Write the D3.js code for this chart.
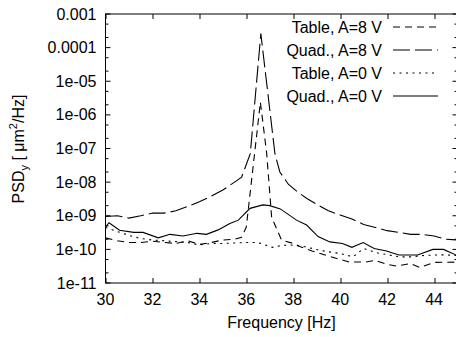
<!DOCTYPE html>
<html>
<head>
<meta charset="utf-8">
<script src="https://cdn.jsdelivr.net/npm/d3@7"></script>
<style>
  body { margin: 0; background: #fff; }
  svg { display: block; }
  text { font-family: "Liberation Sans", Arial, sans-serif; font-size: 16px; fill: #000; }
</style>
</head>
<body>
<svg id="chart"></svg>
<script>
// Table, A=8 V (short dashes)
const freqTableA8 = [30.0, 30.5, 31.0, 31.5, 32.0, 32.5, 33.0, 33.5, 34.0, 34.5, 35.0, 35.5, 35.8, 36.0, 36.6, 36.87, 37.08, 37.5, 38.0, 38.3, 38.8, 39.4, 40.0, 40.4, 41.1, 41.5, 42.0, 42.4, 43.0, 43.4, 44.0, 45.0];
const psdTableA8  = [2.2e-10, 1.8e-10, 1.6e-10, 1.6e-10, 1.75e-10, 1.6e-10, 1.5e-10, 1.8e-10, 1.4e-10, 1.6e-10, 1.9e-10, 2.0e-10, 2.3e-10, 4.6e-10, 2.4e-6, 7e-8, 9e-10, 1.9e-10, 1.5e-10, 1.2e-10, 9e-11, 6.7e-11, 5e-11, 4.2e-11, 4.2e-11, 4.7e-11, 3.6e-11, 3.2e-11, 3.8e-11, 2.9e-11, 4.1e-11, 4.2e-11];

// Quad., A=8 V (long dashes)
const freqQuadA8 = [30.0, 30.5, 31.0, 31.5, 32.0, 32.5, 33.0, 33.5, 34.0, 34.5, 35.0, 35.5, 35.8, 36.17, 36.62, 37.22, 37.43, 37.8, 38.2, 38.6, 39.0, 39.5, 40.0, 40.5, 41.0, 41.5, 42.0, 42.5, 43.0, 43.5, 44.0, 44.5, 45.0];
const psdQuadA8  = [9.5e-10, 1.0e-9, 8.5e-10, 1.0e-9, 1.2e-9, 1.2e-9, 1.4e-9, 1.9e-9, 2.6e-9, 3.8e-9, 5.8e-9, 1.0e-8, 1.4e-8, 7e-8, 2.6e-4, 7e-8, 2e-8, 8.5e-9, 5e-9, 3.2e-9, 2.2e-9, 1.4e-9, 1.05e-9, 8e-10, 5.5e-10, 4.5e-10, 3.6e-10, 3.2e-10, 2.8e-10, 2.8e-10, 2.5e-10, 2.0e-10, 1.9e-10];

// Table, A=0 V (dots)
const freqTableA0 = [30.0, 30.5, 31.0, 31.5, 32.0, 32.5, 33.0, 33.5, 34.0, 34.5, 35.0, 35.5, 36.0, 36.5, 37.1, 37.5, 37.9, 38.5, 39.1, 39.5, 40.0, 40.55, 41.0, 41.6, 42.0, 42.5, 43.0, 43.5, 44.0, 44.5, 45.0];
const psdTableA0  = [4.5e-10, 3.4e-10, 2.6e-10, 2.1e-10, 1.9e-10, 1.8e-10, 1.7e-10, 1.6e-10, 1.35e-10, 1.5e-10, 1.5e-10, 1.55e-10, 1.6e-10, 1.6e-10, 1.15e-10, 1.3e-10, 1.35e-10, 1.2e-10, 9.5e-11, 8.5e-11, 7.5e-11, 6e-11, 1.06e-10, 7.8e-11, 7e-11, 6e-11, 6e-11, 6.5e-11, 6.8e-11, 6.9e-11, 6.5e-11];

// Quad., A=0 V (solid)
const freqQuadA0 = [30.0, 30.15, 30.6, 31.2, 31.6, 32.25, 32.75, 33.3, 33.9, 34.3, 34.8, 35.3, 35.66, 36.16, 36.7, 37.0, 37.45, 38.14, 38.57, 39.06, 39.56, 40.1, 40.5, 40.98, 41.45, 41.97, 42.5, 43.3, 43.95, 44.4, 45.0];
const psdQuadA0  = [4.6e-10, 6.2e-10, 3.7e-10, 3.2e-10, 3.2e-10, 2.2e-10, 2.8e-10, 2.5e-10, 3e-10, 2.8e-10, 3.8e-10, 5.9e-10, 7.4e-10, 1.66e-9, 2.1e-9, 2e-9, 1.6e-9, 7.4e-10, 5.3e-10, 2.4e-10, 1.67e-10, 1.5e-10, 1.15e-10, 1.6e-10, 1.06e-10, 9e-11, 6.8e-11, 6.8e-11, 1e-10, 1e-10, 6.5e-11];

const xTicks = [30, 32, 34, 36, 38, 40, 42, 44];
const yTicks = [1e-3, 1e-4, 1e-5, 1e-6, 1e-7, 1e-8, 1e-9, 1e-10, 1e-11];
const yTickLabels = ['0.001', '0.0001', '1e-05', '1e-06', '1e-07', '1e-08', '1e-09', '1e-10', '1e-11'];
const legendLabels = ['Table, A=8 V', 'Quad., A=8 V', 'Table, A=0 V', 'Quad., A=0 V'];

const width = 456, height = 337;
const margin = {top: 14, right: -1.5, bottom: 54, left: 105.5};
const innerW = width - margin.left - margin.right;
const innerH = height - margin.top - margin.bottom;

const svg = d3.select('#chart').attr('width', width).attr('height', height);
const chart = svg.append('g').attr('transform', `translate(${margin.left},${margin.top})`);

const x = d3.scaleLinear().domain([30, 45]).range([0, innerW]);
const y = d3.scaleLog().domain([1e-11, 1e-3]).range([innerH, 0]);

// minor ticks at 2 and 5 of each decade
const yMinor = [];
for (let e = -11; e < -3; e++) { yMinor.push(2 * Math.pow(10, e), 5 * Math.pow(10, e)); }

// frame
chart.append('rect')
    .attr('width', innerW).attr('height', innerH)
    .attr('fill', 'none').attr('stroke', '#000').attr('stroke-width', 1);

// ticks (inward, mirrored)
const tickG = chart.append('g').attr('stroke', '#000').attr('stroke-width', 1);
xTicks.forEach(t => {
  const px = Math.round(x(t)) + 0.5;
  tickG.append('line').attr('x1', px).attr('x2', px).attr('y1', innerH).attr('y2', innerH - 5);
  tickG.append('line').attr('x1', px).attr('x2', px).attr('y1', 0).attr('y2', 5);
});
yTicks.forEach(t => {
  tickG.append('line').attr('x1', 0).attr('x2', 5).attr('y1', y(t)).attr('y2', y(t));
  tickG.append('line').attr('x1', innerW).attr('x2', innerW - 5).attr('y1', y(t)).attr('y2', y(t));
});
yMinor.forEach(t => {
  tickG.append('line').attr('x1', 0).attr('x2', 3).attr('y1', y(t)).attr('y2', y(t));
  tickG.append('line').attr('x1', innerW).attr('x2', innerW - 3).attr('y1', y(t)).attr('y2', y(t));
});

// tick labels
chart.selectAll('.xlab').data(xTicks).join('text')
    .attr('class', 'xlab')
    .attr('x', d => x(d)).attr('y', innerH + 22)
    .attr('text-anchor', 'middle')
    .text(d => d);

chart.selectAll('.ylab').data(yTicks).join('text')
    .attr('class', 'ylab')
    .attr('x', -9).attr('y', d => y(d) + 5.5)
    .attr('text-anchor', 'end')
    .text((d, i) => yTickLabels[i]);

// axis titles
chart.append('text')
    .attr('x', x(37.5)).attr('y', innerH + 45)
    .attr('text-anchor', 'middle')
    .text('Frequency [Hz]');

const yTitle = svg.append('text')
    .attr('transform', 'translate(24,149) rotate(-90)')
    .attr('text-anchor', 'middle');
yTitle.append('tspan').text('PSD');
yTitle.append('tspan').attr('font-size', 11).attr('dy', 4).text('y');
yTitle.append('tspan').attr('dy', -4).text(' [ μm');
yTitle.append('tspan').attr('font-size', 11).attr('dy', -7).text('2');
yTitle.append('tspan').attr('dy', 7).text('/Hz]');

// curves
const series = [
  {f: freqTableA8, v: psdTableA8, dash: '7,5'},
  {f: freqQuadA8, v: psdQuadA8, dash: '17,5'},
  {f: freqTableA0, v: psdTableA0, dash: '2,4.5'},
  {f: freqQuadA0, v: psdQuadA0, dash: null}
];

const line = d3.line().x(d => x(d[0])).y(d => y(d[1]));

chart.selectAll('.curve').data(series).join('path')
    .attr('class', 'curve')
    .attr('d', s => line(s.f.map((f, i) => [f, s.v[i]])))
    .attr('fill', 'none')
    .attr('stroke', '#000')
    .attr('stroke-width', 1.1)
    .attr('stroke-dasharray', s => s.dash);

// legend
const legend = svg.append('g');
legendLabels.forEach((lab, i) => {
  const ly = 27 + i * 23;
  legend.append('text')
      .attr('x', 382).attr('y', ly + 5.5)
      .attr('text-anchor', 'end')
      .text(lab);
  legend.append('line')
      .attr('x1', 393).attr('x2', 438)
      .attr('y1', ly).attr('y2', ly)
      .attr('stroke', '#000').attr('stroke-width', 1.1)
      .attr('stroke-dasharray', series[i].dash);
});
</script>
</body>
</html>
